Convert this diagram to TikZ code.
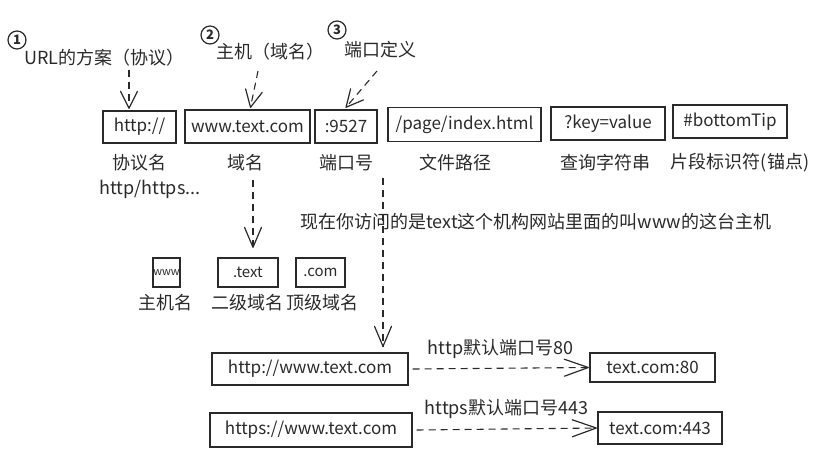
\documentclass[tikz,border=0pt]{standalone}
\usepackage{fontspec}
\setmainfont{Noto Sans CJK SC}
\usetikzlibrary{arrows.meta,decorations.markings}
\definecolor{ink}{HTML}{2A2A2A}
\begin{document}
\begin{tikzpicture}[x=1pt,y=-1pt,
  every node/.style={text=ink},
  txt/.style={font=\fontsize{18}{20}\selectfont, inner sep=0pt},
  boxtxt/.style={font=\fontsize{17}{19}\selectfont},
  smalltxt/.style={font=\fontsize{15}{17}\selectfont},
  urlbox/.style={draw=ink, line width=1.4pt, inner sep=0pt, boxtxt},
  numcirc/.style={draw=ink, circle, line width=1.2pt, minimum size=18pt, inner sep=0pt,
                  font=\fontsize{13}{14}\selectfont\bfseries},
  % dashed shaft, solid open V head of the given length at the end
  dasharrow/.style={draw=ink, line width=1.1pt, dash pattern=on 7pt off 5pt,
    postaction={decorate, decoration={markings, mark=at position 1 with {
      \pgfsetdash{}{0pt}
      \draw[ink, line width=1.2pt, line cap=round, line join=round]
        (-#1pt,-8.5pt) -- (0pt,0pt) -- (-#1pt,8.5pt);}}}},
  dasharrow/.default=17,
]
\path[use as bounding box] (0,0) rectangle (832,452);

% --- headings with circled numbers
\node[numcirc] (n1) at (17,40) {1};
\node[numcirc] (n2) at (210,35) {2};
\node[numcirc] (n3) at (337,30) {3};
\node[txt, anchor=west] (h1) at (24,58) {URL的方案（协议）};
\node[txt, anchor=west] (h2) at (216,52) {主机（域名）};
\node[txt, anchor=west] (h3) at (344,50) {端口定义};

% --- the URL split into parts
\node[urlbox, minimum width=73pt, minimum height=32pt] (proto) at (139.5,127) {http://};
\node[urlbox, minimum width=125pt, minimum height=33pt] (host) at (247.5,126.5) {www.text.com};
\node[urlbox, minimum width=62pt, minimum height=33pt] (port) at (346,126.5) {:9527};
\node[urlbox, minimum width=153pt, minimum height=34pt] (path) at (464.5,124.5) {/page/index.html};
\node[urlbox, minimum width=114pt, minimum height=33pt] (query) at (608,123.5) {?key=value};
\node[urlbox, minimum width=114pt, minimum height=33pt] (frag) at (730,121.5) {\#bottomTip};

% --- captions under the parts
\node[txt] (lproto) at (139,163) {协议名};
\node[txt] (lproto2) at (150,189) {http/https...};
\node[txt] (lhost) at (245,163) {域名};
\node[txt] (lport) at (346,163) {端口号};
\node[txt] (lpath) at (455,163) {文件路径};
\node[txt] (lquery) at (605,163) {查询字符串};
\node[txt] (lfrag) at (740,163) {片段标识符(锚点)};

% --- heading arrows
\coordinate (a1) at (129,70);
\coordinate (a2) at (258,71);
\coordinate (a3) at (377,71);
\draw[dasharrow] (a1) -- ([yshift=2pt]a1 |- proto.north);
\draw[dasharrow] (a2) -- ([xshift=3pt,yshift=2pt]host.north);
\draw[dasharrow] (a3) -- ([yshift=2pt]port.north);

% --- domain levels
\node[txt, anchor=west] (note) at (300,222) {现在你访问的是text这个机构网站里面的叫www的这台主机};
\node[urlbox, minimum width=27pt, minimum height=29pt, font=\fontsize{11}{12}\selectfont] (sub) at (166.5,272.5) {www};
\node[urlbox, minimum width=60pt, minimum height=29pt, smalltxt] (sld) at (248,272.5) {.text};
\node[urlbox, minimum width=49pt, minimum height=29pt, smalltxt] (tld) at (320.5,272.5) {.com};
\node[txt] (lsub) at (165,303) {主机名};
\node[txt] (lsld) at (247,303) {二级域名};
\node[txt] (ltld) at (322,303) {顶级域名};
\coordinate (a4) at (253,180);
\draw[dasharrow=20] (a4) -- ([yshift=10pt]a4 |- sld.north);

% --- default ports
\node[urlbox, minimum width=196pt, minimum height=32pt] (http) at (310,369) {http://www.text.com};
\node[urlbox, minimum width=202pt, minimum height=34pt] (https) at (311,430) {https://www.text.com};
\node[urlbox, minimum width=125pt, minimum height=29pt] (h80) at (652.5,367.5) {text.com:80};
\node[urlbox, minimum width=124pt, minimum height=32pt] (h443) at (660,428) {text.com:443};
\coordinate (a5) at (383,178);
\draw[dasharrow=20] (a5) -- ([yshift=6pt]a5 |- http.north);
\draw[dasharrow=24] ([xshift=4pt]http.east) -- ([xshift=-1pt]h80.west)
  node[midway, above=9pt, txt] (l80) {http默认端口号80};
\draw[dasharrow=24] ([xshift=4pt]https.east) -- ([xshift=-1pt]h443.west)
  node[midway, above=10pt, txt] (l443) {https默认端口号443};
\end{tikzpicture}
\end{document}
